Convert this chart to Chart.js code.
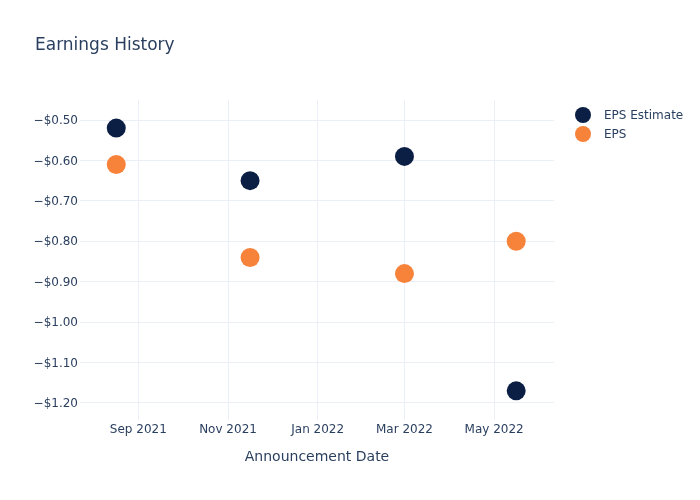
<!DOCTYPE html>
<html>
<head>
<meta charset="utf-8">
<script src="https://cdn.jsdelivr.net/npm/chart.js@4"></script>
<style>
  body { margin: 0; background: #fff; font-family: "DejaVu Sans", sans-serif; color: #2a3f5f; }
  #wrap { position: relative; width: 700px; height: 500px; }
  #title { position: absolute; left: 35px; top: 34px; font-size: 17px; }
  #legend { position: absolute; left: 575px; top: 105px; font-size: 12px; }
  .item { display: flex; align-items: center; height: 19px; }
  .dot { width: 16px; height: 16px; border-radius: 50%; margin-right: 13px; }
</style>
</head>
<body>
<div id="wrap">
  <canvas id="chart" width="700" height="500"></canvas>
  <div id="title">Earnings History</div>
  <div id="legend"></div>
</div>
<script>
const dates = ['2021-08-17', '2021-11-16', '2022-03-01', '2022-05-16'];
const epsEstimate = [-0.52, -0.65, -0.59, -1.17];
const eps = [-0.61, -0.84, -0.88, -0.80];

const xTickDates = ['2021-09-01', '2021-11-01', '2022-01-01', '2022-03-01', '2022-05-01'];
const xTickLabels = ['Sep 2021', 'Nov 2021', 'Jan 2022', 'Mar 2022', 'May 2022'];
const yTicks = [-0.5, -0.6, -0.7, -0.8, -0.9, -1.0, -1.1, -1.2];

const toMs = d => new Date(d.length > 10 ? d + 'Z' : d + 'T00:00:00Z').getTime();
const money = v => (v < 0 ? '\u2212' : '') + '$' + Math.abs(v).toFixed(2);

const textColor = '#2a3f5f';
const gridColor = '#ebf0f8';

const ctx = document.getElementById('chart').getContext('2d');
const chart = new Chart(ctx, {
    type: 'scatter',
    data: {
        datasets: [
            {
                label: 'EPS Estimate',
                data: dates.map((d, i) => ({ x: toMs(d), y: epsEstimate[i] })),
                backgroundColor: '#0b1f45',
                borderWidth: 0,
                pointRadius: 9.5,
                pointHoverRadius: 9.5
            },
            {
                label: 'EPS',
                data: dates.map((d, i) => ({ x: toMs(d), y: eps[i] })),
                backgroundColor: '#f7823a',
                borderWidth: 0,
                pointRadius: 9.5,
                pointHoverRadius: 9.5
            }
        ]
    },
    options: {
        responsive: false,
        animation: false,
        layout: { padding: { top: 100, right: 146, left: 0, bottom: 0 } },
        plugins: {
            legend: { display: false },
            title: { display: false },
            tooltip: { enabled: false }
        },
        scales: {
            x: {
                type: 'linear',
                min: toMs('2021-07-23T08:00:00'),
                max: toMs('2022-06-10T17:00:00'),
                afterBuildTicks: s => { s.ticks = xTickDates.map(d => ({ value: toMs(d) })); },
                afterFit: s => { s.height = 80; },
                grid: { color: gridColor, drawTicks: false },
                border: { display: false },
                ticks: {
                    color: textColor,
                    font: { family: 'DejaVu Sans', size: 12 },
                    padding: 3,
                    maxRotation: 0,
                    callback: (v, i) => xTickLabels[i]
                },
                title: {
                    display: true,
                    text: 'Announcement Date',
                    color: textColor,
                    font: { family: 'DejaVu Sans', size: 14 },
                    padding: { top: 0, bottom: 34 }
                }
            },
            y: {
                min: -1.2421,
                max: -0.4505,
                afterBuildTicks: s => { s.ticks = yTicks.map(v => ({ value: v })); },
                afterFit: s => { s.width = 80; },
                grid: { color: gridColor, drawTicks: false },
                border: { display: false },
                ticks: {
                    color: textColor,
                    font: { family: 'DejaVu Sans', size: 12 },
                    padding: 2,
                    labelOffset: 1,
                    callback: v => money(v)
                }
            }
        }
    }
});

const legend = document.getElementById('legend');
chart.data.datasets.forEach(ds => {
    const item = document.createElement('div');
    item.className = 'item';
    const dot = document.createElement('span');
    dot.className = 'dot';
    dot.style.background = ds.backgroundColor;
    const label = document.createElement('span');
    label.textContent = ds.label;
    item.append(dot, label);
    legend.append(item);
});
</script>
</body>
</html>
